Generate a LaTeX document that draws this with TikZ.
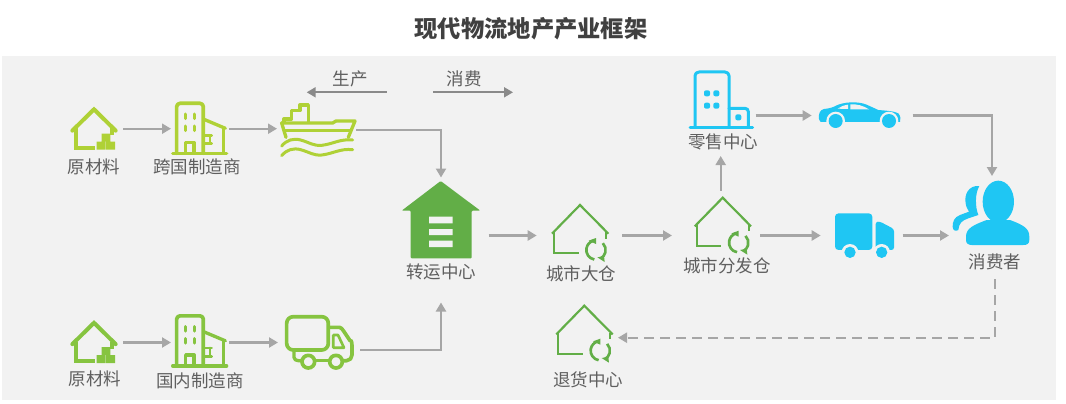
\documentclass[tikz,border=0pt]{standalone}
\usepackage{fontspec}
\setmainfont{Noto Sans CJK SC}
\usetikzlibrary{arrows.meta}
\definecolor{bgc}{HTML}{F2F2F2}
\definecolor{txtc}{HTML}{5F5F5F}
\definecolor{ttlc}{HTML}{404040}
\definecolor{linec}{HTML}{A6A6A6}
\definecolor{darkg}{HTML}{8A8A8A}
\definecolor{lime}{HTML}{AFD136}
\definecolor{leaf}{HTML}{86C440}
\definecolor{grass}{HTML}{62AE47}
\definecolor{sky}{HTML}{1FC6F3}
\tikzset{
  zoomed/.style 2 args={x=.33333pt,y=-.33333pt,xshift=#1pt,yshift=-#2pt},
  conn/.style={draw=linec,line width=2.2pt,-{Triangle[length=9pt,width=10pt]}},
  dir/.style={draw=darkg,line width=1.9pt,-{Triangle[length=9pt,width=10pt]}},
  dconn/.style={conn,dash pattern=on 10pt off 6pt},
  lbl/.style={text=txtc,font=\fontsize{17.5}{20}\selectfont,inner sep=0pt},
  slot/.style 2 args={inner sep=0pt,outer sep=0pt,minimum width=#1pt,minimum height=#2pt},
  ln/.style={line width=#1*.33333pt,line cap=round,line join=round}
}
% all icons are written in 3x crop coordinates
\newcommand{\limehouse}[3]{\begin{scope}[zoomed={#1}{#2}]
  \draw[#3,ln=12,line join=miter] (67,212)--(132,148)--(197,212);
  \draw[#3,ln=12,line cap=butt,line join=miter] (78,205)--(78,263)--(135,263);
  \draw[#3,ln=12,line cap=butt] (187,205)--(187,226);
  \fill[#3] (140,245) rectangle (167,269) (168,245) rectangle (195,269) (155,221) rectangle (181,244);
\end{scope}}
\newcommand{\tower}[3]{\begin{scope}[zoomed={#1}{#2}]
  \draw[#3,ln=11] (380,280)--(380,140) to[out=90,in=180] (390,130)--(450,130) to[out=0,in=90] (460,140)--(460,280);
  \draw[#3,ln=10] (462,178)--(526,205);
  \draw[#3,ln=10] (520,203)--(520,280);
  \draw[#3,ln=10] (368,280)--(530,280);
  \draw[#3,ln=10,line cap=butt] (407,280)--(407,247)--(432,247)--(432,280);
  \draw[#3,ln=9] (406,162)--(406,176) (433,162)--(433,176) (406,198)--(406,212) (433,198)--(433,212);
  \draw[#3,ln=8] (464,226)--(485,226) (464,251)--(485,251) (480,226)--(480,251);
\end{scope}}
\newcommand{\cityhouse}[2]{\begin{scope}[zoomed={#1}{#2}]
  \draw[grass,ln=6.5,line join=miter,line cap=butt] (486,191)--(570,105)--(655,191);
  \draw[grass,ln=6.5,line join=miter,line cap=butt] (492,186)--(492,250)--(566,250);
  \draw[grass,ln=6.5,line cap=butt] (648,186)--(648,206);
  \draw[grass,ln=8,line cap=butt] (618,240) ++(100:29) arc[start angle=100,end angle=255,radius=29];
  \draw[grass,ln=8,line cap=butt] (618,240) ++(-45:29) arc[start angle=-45,end angle=62,radius=29];
  \fill[grass] (596,212)--(618,204)--(618,222)--cycle;
  \fill[grass] (622,262)--(642,258)--(644,276)--cycle;
\end{scope}}
\begin{document}
\begin{tikzpicture}[x=1pt,y=-1pt]
\useasboundingbox (0,0) rectangle (1066,404);
\fill[white] (0,0) rectangle (1066,404);
\fill[bgc] (2,56) rectangle (1056,400);
% title
\node[inner sep=0pt,text=ttlc] (title) at (531,29) {\fontsize{23.3}{26}\selectfont\bfseries 现代物流地产产业框架};
% invisible slots that carry the connectors
\node[slot={56}{50}] (rawa) at (95,128.7) {};
\node[slot={58}{50}] (maka) at (200,128.7) {};
\node[slot={79}{50}] (ship) at (316.5,130) {};
\node[slot={56}{50}] (rawb) at (95,342.5) {};
\node[slot={58}{50}] (makb) at (200,342.5) {};
\node[slot={82}{50}] (trka) at (319,350) {};
\node[slot={95.4}{125}] (hub) at (441,240) {};
\node[slot={85.3}{60}] (wh) at (579.35,235.5) {};
\node[slot={88}{90}] (dc) at (716,235.5) {};
\node[slot={70}{81}] (ret) at (720.7,115.5) {};
\node[slot={101}{40}] (car) at (862.2,115.5) {};
\node[slot={82}{50}] (trkb) at (861.7,235.5) {};
\node[slot={86}{119}] (cons) at (992,235.5) {};
\node[slot={70}{60}] (rtn) at (583,337.7) {};
\coordinate (pb) at (306.7,92.3);
\coordinate (pc) at (386.7,92.3);
\coordinate (qa) at (433,92.3);
\coordinate (qb) at (513,92.3);
% labels
\node[lbl] (lrawa) at (94,167) {原材料};
\node[lbl] (lmaka) at (197,167) {跨国制造商};
\node[lbl] (lrawb) at (95,379) {原材料};
\node[lbl] (lmakb) at (200,381) {国内制造商};
\node[lbl] (lhub) at (441,272) {转运中心};
\node[lbl] (lwh) at (581,274) {城市大仓};
\node[lbl] (ldc) at (727,266) {城市分发仓};
\node[lbl] (lret) at (723,142) {零售中心};
\node[lbl,minimum height=34pt] (lcons) at (995,262) {消费者};
\node[lbl] (lrtn) at (588,380) {退货中心};
\node[lbl] (lp) at (350,79) {生产};
\node[lbl] (lq) at (464,79) {消费};
% icons
\limehouse{50}{60}{lime}
\limehouse{50}{273.5}{leaf}
\tower{50}{60}{lime}
\tower{50}{272.5}{leaf}
% ship
\begin{scope}[zoomed={50}{60}]
  \draw[lime,ln=10] (702,186)--(702,177)--(725,177)--(725,152)--(750,152)--(750,135)--(775,135)--(775,186);
  \draw[lime,ln=10] (695,189)--(848,189)--(858,183)--(915,183)--(895,232);
  \draw[lime,ln=10] (695,189)--(708,232);
  \draw[lime,ln=9] (702,213)--(903,213);
  \draw[lime,ln=9] (695,258) .. controls (710,240) and (730,234) .. (752,240) .. controls (780,248) and (790,258) .. (815,256) .. controls (850,252) and (870,236) .. (908,240);
  \draw[lime,ln=9] (695,287) .. controls (710,269) and (730,263) .. (752,269) .. controls (780,277) and (790,287) .. (815,285) .. controls (850,281) and (870,265) .. (908,269);
\end{scope}
% green truck
\begin{scope}[zoomed={50}{300}]
  \draw[leaf,ln=11] (710,70) to[out=90,in=180] (730,50)--(815,50) to[out=0,in=90] (835,70)--(835,130) to[out=-90,in=0] (815,150)--(730,150) to[out=180,in=-90] (710,130)--cycle;
  \draw[leaf,ln=11] (838,82)--(868,82) to[out=0,in=130] (880,92)--(900,122) to[out=50,in=90] (906,140)--(906,165) to[out=-90,in=0] (890,182)--(880,182);
  \draw[leaf,ln=8] (850,105)--(864,105)--(882,143)--(850,143)--cycle;
  \draw[leaf,ln=10] (732,152)--(732,172) to[out=-90,in=180] (745,182)--(752,182);
  \draw[leaf,ln=10] (797,182)--(836,182);
  \draw[leaf,ln=11] (775,185) circle[radius=19];
  \draw[leaf,ln=11] (858,185) circle[radius=19];
\end{scope}
% hub
\begin{scope}[zoomed={390}{170}]
  \fill[grass,rounded corners=1pt] (152,33)--(271,122)--(245,122)--(245,265)--(62,265)--(62,122)--(35,122)--cycle;
  \fill[bgc] (117,140) rectangle (188,160) (117,177) rectangle (188,195) (117,212) rectangle (188,231);
\end{scope}
\cityhouse{390}{170}
\cityhouse{532.7}{162.7}
\cityhouse{394.3}{270.7}
% retail
\begin{scope}[zoomed={670}{60}]
  \draw[sky,ln=9] (75,200)--(75,47) to[out=90,in=180] (87,36)--(165,36) to[out=0,in=90] (177,47)--(177,200);
  \draw[sky,ln=9] (177,145)--(225,145) to[out=0,in=90] (235,155)--(235,200);
  \draw[sky,ln=9] (60,202)--(248,202);
  \fill[sky,rounded corners=2pt] (102,91) rectangle (120,109) (130,91) rectangle (148,109) (102,128) rectangle (120,146) (130,128) rectangle (148,146) (196,163) rectangle (214,181);
\end{scope}
% car
\begin{scope}[zoomed={670}{60}]
  \fill[sky] (447,178) .. controls (445,160) and (450,150) .. (462,147) .. controls (480,145) and (490,142) .. (500,136) .. controls (520,127) and (560,122) .. (590,134) -- (625,150) .. controls (650,152) and (675,154) .. (685,160) .. controls (692,168) and (693,178) .. (690,186) -- (452,186) -- cycle;
  \fill[bgc] (503,146) .. controls (512,139) and (522,136) .. (534,134) -- (534,147) -- cycle;
  \fill[bgc] (541,133) .. controls (560,132) and (578,136) .. (597,148) -- (541,148) -- cycle;
  \fill[bgc] (497,183) circle[radius=28] (657,183) circle[radius=28];
  \fill[bgc] (440,186) rectangle (700,215);
  \fill[sky] (497,183) circle[radius=21] (657,183) circle[radius=21];
\end{scope}
% blue truck
\begin{scope}[zoomed={670}{170}]
  \fill[sky,rounded corners=3.5pt] (495,130) rectangle (607,240);
  \fill[sky,rounded corners=2.5pt] (617,240)--(617,155)--(630,155)--(672,177)--(672,240)--cycle;
  \fill[bgc] (540,247) circle[radius=25] (635,247) circle[radius=25];
  \fill[bgc] (480,241) rectangle (690,275);
  \fill[sky] (540,247) circle[radius=17] (635,247) circle[radius=17];
\end{scope}
% consumer
\begin{scope}[zoomed={670}{170}]
  \fill[sky] (985,95) ellipse[x radius=47,y radius=63];
  \fill[sky] (888,200) .. controls (888,175) and (910,165) .. (950,150) -- (1020,150) .. controls (1060,165) and (1078,175) .. (1078,200) -- (1078,210) .. controls (1078,222) and (1070,225) .. (1060,225) -- (905,225) .. controls (895,225) and (888,220) .. (888,210) -- cycle;
  \fill[sky] (928,48) .. controls (895,45) and (882,75) .. (887,100) .. controls (888,112) and (894,118) .. (897,125) -- (870,135) .. controls (852,142) and (848,155) .. (848,170) .. controls (848,182) and (858,185) .. (865,180) .. controls (867,160) and (875,152) .. (895,145) -- (925,135) .. controls (915,110) and (915,70) .. (928,48) -- cycle;
\end{scope}
% connectors
\draw[dir] (pc)--(pb);
\draw[dir] (qa)--(qb);
\draw[conn] (rawa.east)--(maka.west);
\draw[conn] (maka.east)--(maka.east-|ship.west);
\draw[conn] (ship.east)-|(hub.north);
\draw[conn] (rawb.east)--(makb.west);
\draw[conn] (makb.east)--(makb.east-|trka.west);
\draw[conn] (trka.east)-|(hub.south);
\draw[conn] (hub.east|-wh.west)--(wh.west);
\draw[conn] (wh.east)--(dc.west);
\draw[conn] (dc.east)--(trkb.west);
\draw[conn] (trkb.east)--(cons.west);
\draw[conn] (ret.south|-dc.north)--(ret.south);
\draw[conn] (ret.east)--(car.west);
\draw[conn] (car.east)-|(cons.north);
\draw[dconn] (lcons.south)|-(rtn.east);
\end{tikzpicture}
\end{document}
